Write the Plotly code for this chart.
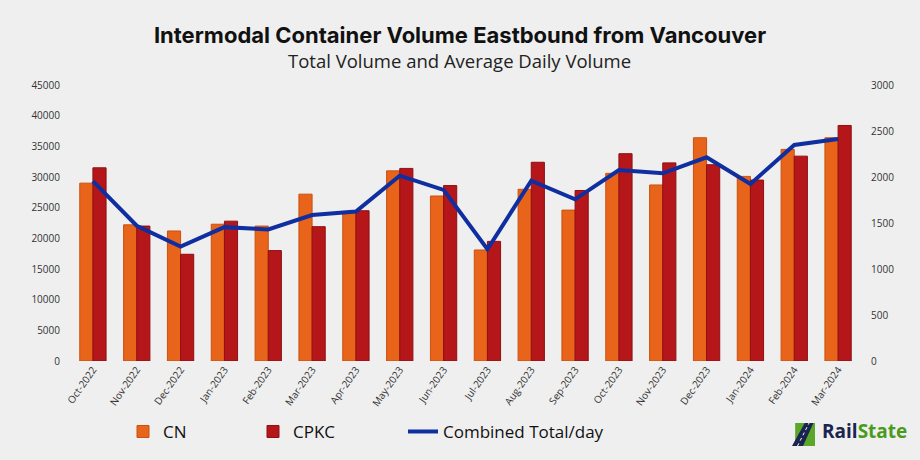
import plotly.graph_objects as go

months = ["Oct-2022", "Nov-2022", "Dec-2022", "Jan-2023", "Feb-2023", "Mar-2023",
          "Apr-2023", "May-2023", "Jun-2023", "Jul-2023", "Aug-2023", "Sep-2023",
          "Oct-2023", "Nov-2023", "Dec-2023", "Jan-2024", "Feb-2024", "Mar-2024"]
cn = [29000, 22200, 21200, 22300, 22000, 27200, 24100, 31000, 26900, 18100, 28000, 24600,
      30600, 28700, 36400, 30100, 34500, 36400]
cpkc = [31500, 22000, 17400, 22800, 18000, 21900, 24500, 31400, 28600, 19500, 32400, 27800,
        33800, 32300, 32000, 29500, 33400, 38400]
per_day = [1955, 1470, 1245, 1455, 1430, 1587, 1625, 2015, 1860, 1214, 1960, 1757,
           2076, 2040, 2214, 1924, 2348, 2413]

BG = "#efefef"
FONT = "Open Sans, sans-serif"
fig = go.Figure()
fig.add_trace(go.Bar(x=months, y=cn, name="CN", legend="legend",
                     marker=dict(color="#e8641a", line=dict(color="#c9500f", width=1)), yaxis="y"))
fig.add_trace(go.Bar(x=months, y=cpkc, name="CPKC", legend="legend2",
                     marker=dict(color="#b5161a", line=dict(color="#8f0f12", width=1)), yaxis="y"))
fig.add_trace(go.Scatter(x=months, y=per_day, name="Combined Total/day", mode="lines", legend="legend3",
                         line=dict(color="#0f2fa0", width=4), yaxis="y2"))

leg_common = dict(orientation="h", yanchor="middle", y=-0.257, xanchor="left",
                  font=dict(family=FONT, size=17, color="#111"), bgcolor="rgba(0,0,0,0)",
                  itemwidth=30)

fig.update_layout(
    width=920, height=460,
    paper_bgcolor=BG, plot_bgcolor=BG,
    margin=dict(l=71, r=60, t=85, b=99, autoexpand=False),
    barmode="group", bargap=0.4, bargroupgap=0,
    font=dict(family=FONT, color="#222"),
    title=dict(text="<b>Intermodal Container Volume Eastbound from Vancouver</b>",
               x=0.5, xanchor="center", y=1 - 35 / 460, yanchor="middle",
               font=dict(family="Inter, sans-serif", size=22, color="#111", weight=900)),
    annotations=[
        dict(text="Total Volume and Average Daily Volume", xref="paper", yref="paper",
             x=0.5, y=1.0, xanchor="center", xshift=-6, yanchor="middle", yshift=85 - 60,
             showarrow=False, font=dict(family=FONT, size=18.5, color="#222")),
        dict(text="<b>Rail</b><b><span style='color:#4a9a1c'>State</span></b>", xref="paper", yref="paper",
             x=(820 - 71) / 789, y=-0.255, xanchor="left", yanchor="middle", showarrow=False,
             font=dict(family=FONT, size=19, color="#1a2450")),
    ],
    xaxis=dict(tickangle=-55, tickfont=dict(family=FONT, size=10, color="#333"), showgrid=False,
               showline=False, ticks="", automargin=False),
    yaxis=dict(range=[0, 45000], dtick=5000, tickformat="d", showgrid=False, zeroline=False,
               tickfont=dict(family=FONT, size=10, color="#333"), ticklabelstandoff=10, automargin=False),
    yaxis2=dict(range=[0, 3000], dtick=500, tickformat="d", overlaying="y", side="right", showgrid=False,
                zeroline=False, tickfont=dict(family=FONT, size=10, color="#333"), ticklabelstandoff=10,
                automargin=False),
    legend=dict(leg_common, x=(123 - 71) / 789),
    legend2=dict(leg_common, x=(253 - 71) / 789),
    legend3=dict(leg_common, x=(403 - 71) / 789),
    showlegend=True,
)

# RailState logo icon
x0, x1 = (792 - 71) / 789, (815 - 71) / 789
y0, y1 = -(446 - 361) / 276, -(423 - 361) / 276
fig.add_shape(type="path", xref="paper", yref="paper",
              path=f"M {x0+0.004},{y1} L {x1},{y1} L {x1},{y0} L {x0+0.004},{y0} Z",
              fillcolor="#5ca62a", line=dict(width=0))
fig.add_shape(type="path", xref="paper", yref="paper",
              path=f"M {x0},{y0} L {x0+0.014},{y0} L {x1-0.002},{y1} L {x1-0.013},{y1} Z",
              fillcolor="#1a2450", line=dict(width=0))
fig.add_shape(type="line", xref="paper", yref="paper", x0=x0 + 0.007, y0=y0, x1=x1 - 0.0075, y1=y1,
              line=dict(color="white", width=1, dash="dot"))

fig.write_html("out.html", config={"displayModeBar": False},
               post_script="document.body.style.margin='0';document.body.style.background='#efefef';")
